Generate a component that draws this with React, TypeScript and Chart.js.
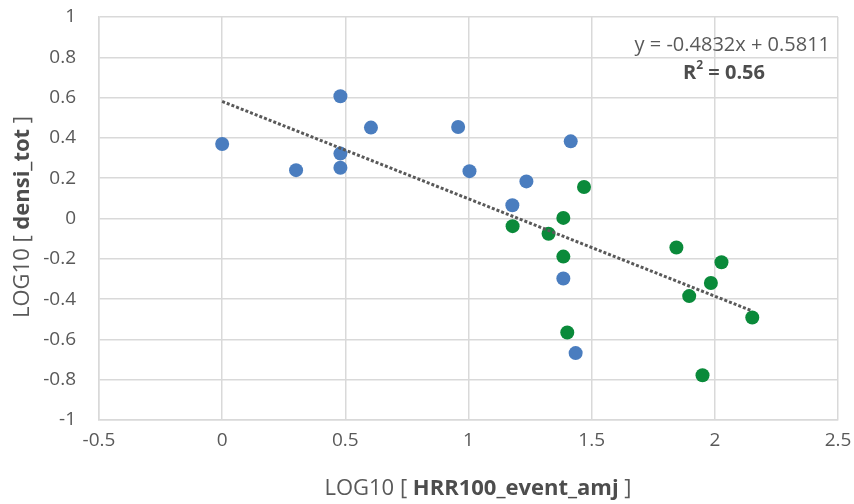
import React, { useEffect, useRef } from "react";
import { Chart, registerables } from "chart.js";

Chart.register(...registerables);

// Blue series (LOG10 HRR100_event_amj, LOG10 densi_tot)
const blueX = [0, 0.3, 0.48, 0.48, 0.48, 0.604, 0.958, 1.004, 1.178, 1.235, 1.415, 1.385, 1.435];
const blueY = [0.37, 0.24, 0.607, 0.322, 0.252, 0.451, 0.454, 0.235, 0.066, 0.184, 0.383, -0.298, -0.668];

// Green series
const greenX = [1.179, 1.325, 1.385, 1.385, 1.401, 1.469, 1.844, 1.896, 1.95, 1.984, 2.027, 2.152];
const greenY = [-0.038, -0.076, 0.003, -0.189, -0.566, 0.156, -0.144, -0.385, -0.778, -0.32, -0.217, -0.491];

// Linear trendline endpoints (as drawn)
const trendX = [0, 2.152];
const trendY = [0.581, -0.459];

const xTicks = [-0.5, 0, 0.5, 1, 1.5, 2, 2.5];
const yTicks = [-1, -0.8, -0.6, -0.4, -0.2, 0, 0.2, 0.4, 0.6, 0.8, 1];

const equationText = "y = -0.4832x + 0.5811";
const r2Label = "R";
const r2Value = " = 0.56";

const FONT = "'Open Sans', 'Noto Sans', sans-serif";
const TEXT = "#595959";
const GRID = "#d9d9d9";

const textPlugin = {
  id: "customText",
  afterDraw(chart: any) {
    const ctx = chart.ctx as CanvasRenderingContext2D;
    ctx.save();
    ctx.fillStyle = TEXT;
    ctx.textBaseline = "middle";

    // equation
    ctx.font = `20px ${FONT}`;
    ctx.textAlign = "right";
    ctx.fillText(equationText, 830, 45);

    // R²
    ctx.fillStyle = "#4d4d4d";
    ctx.font = `bold 20px ${FONT}`;
    ctx.textAlign = "left";
    const wR = ctx.measureText(r2Label).width;
    ctx.font = `bold 12px ${FONT}`;
    const w2 = ctx.measureText("2").width;
    ctx.font = `bold 20px ${FONT}`;
    const wV = ctx.measureText(r2Value).width;
    const total = wR + w2 + wV;
    let sx = 724 - total / 2;
    ctx.fillText(r2Label, sx, 73);
    sx += wR;
    ctx.font = `bold 12px ${FONT}`;
    ctx.fillText("2", sx, 66);
    sx += w2;
    ctx.font = `bold 20px ${FONT}`;
    ctx.fillText(r2Value, sx, 73);
    ctx.fillStyle = TEXT;

    const drawMixed = (parts: { t: string; b: boolean }[], cx: number, cy: number) => {
      const widths = parts.map((p) => {
        ctx.font = `${p.b ? "bold " : ""}22px ${FONT}`;
        return ctx.measureText(p.t).width;
      });
      const tot = widths.reduce((a, b) => a + b, 0);
      let x = cx - tot / 2;
      ctx.textAlign = "left";
      parts.forEach((p, i) => {
        ctx.font = `${p.b ? "bold " : ""}22px ${FONT}`;
        ctx.fillStyle = p.b ? "#4d4d4d" : TEXT;
        ctx.fillText(p.t, x, cy);
        x += widths[i];
      });
    };

    drawMixed(
      [
        { t: "LOG10 [ ", b: false },
        { t: "HRR100_event_amj", b: true },
        { t: " ]", b: false },
      ],
      478,
      489
    );

    ctx.save();
    ctx.translate(23, 217);
    ctx.rotate(-Math.PI / 2);
    drawMixed(
      [
        { t: "LOG10 [ ", b: false },
        { t: "densi_tot", b: true },
        { t: " ]", b: false },
      ],
      0,
      0
    );
    ctx.restore();

    ctx.restore();
  },
};

export default function App() {
  const ref = useRef<HTMLCanvasElement | null>(null);

  useEffect(() => {
    if (!ref.current) return;
    const chart = new Chart(ref.current, {
      type: "scatter",
      data: {
        datasets: [
          {
            label: "trend",
            type: "line",
            data: trendX.map((x, i) => ({ x, y: trendY[i] })),
            borderColor: "#595959",
            borderWidth: 3,
            borderDash: [3, 2],
            pointRadius: 0,
            fill: false,
            order: 0,
          } as any,
          {
            label: "blue",
            data: blueX.map((x, i) => ({ x, y: blueY[i] })),
            backgroundColor: "#4a7dbf",
            borderColor: "#4a7dbf",
            pointRadius: 7,
            pointBorderWidth: 0,
            order: 1,
          },
          {
            label: "green",
            data: greenX.map((x, i) => ({ x, y: greenY[i] })),
            backgroundColor: "#0a8a3a",
            borderColor: "#0a8a3a",
            pointRadius: 7,
            pointBorderWidth: 0,
            order: 1,
          },
        ],
      },
      options: {
        animation: false,
        responsive: false,
        maintainAspectRatio: false,
        layout: { padding: { left: 0, right: 16, top: 17, bottom: 0 } },
        plugins: {
          legend: { display: false },
          tooltip: { enabled: false },
        },
        scales: {
          x: {
            type: "linear",
            min: -0.5,
            max: 2.5,
            afterBuildTicks: (scale: any) => {
              scale.ticks = xTicks.map((v) => ({ value: v }));
            },
            afterFit: (scale: any) => {
              scale.height = 84;
              scale.paddingLeft = 0;
              scale.paddingRight = 0;
            },
            grid: { color: GRID, lineWidth: 1.5, drawTicks: false },
            border: { color: GRID, width: 1.5 },
            ticks: {
              color: TEXT,
              padding: 9,
              font: { family: FONT, size: 19 },
              callback: (v: any) => String(Math.round(Number(v) * 10) / 10),
              maxRotation: 0,
            },
          },
          y: {
            type: "linear",
            min: -1,
            max: 1,
            afterBuildTicks: (scale: any) => {
              scale.ticks = yTicks.map((v) => ({ value: v }));
            },
            afterFit: (scale: any) => {
              scale.width = 99;
              scale.paddingTop = 0;
              scale.paddingBottom = 0;
            },
            grid: { color: GRID, lineWidth: 1.5, drawTicks: false },
            border: { color: GRID, width: 1.5 },
            ticks: {
              color: TEXT,
              padding: 23,
              font: { family: FONT, size: 19 },
              callback: (v: any) => String(Math.round(Number(v) * 10) / 10),
            },
          },
        },
      },
      plugins: [textPlugin],
    });
    return () => chart.destroy();
  }, []);

  return (
    <div style={{ position: "absolute", left: 0, top: 0, width: 854, height: 504, background: "#fff" }}>
      <canvas ref={ref} width={854} height={504} style={{ width: 854, height: 504 }} />
    </div>
  );
}
